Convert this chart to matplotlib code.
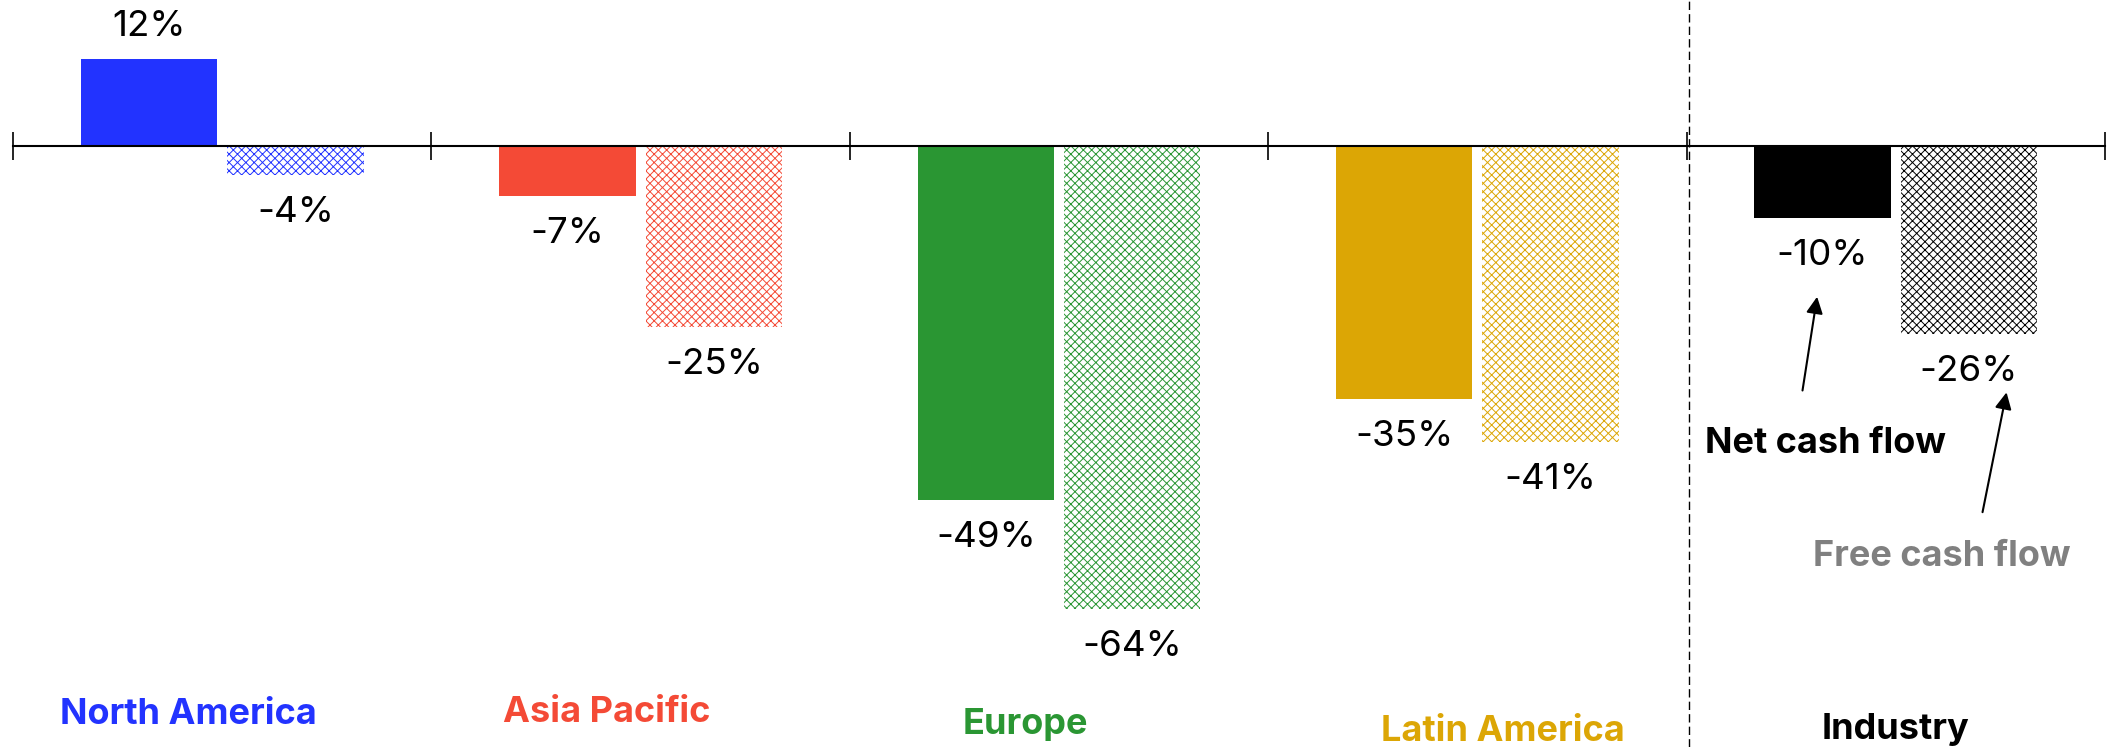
import matplotlib
matplotlib.use("Agg")
import matplotlib.pyplot as plt
import numpy as np

regions = ["North America", "Asia Pacific", "Europe", "Latin America", "Industry"]
net_cash = [12, -7, -49, -35, -10]
free_cash = [-4, -25, -64, -41, -26]
colors = ["#2233ff", "#f44a36", "#2a9633", "#dca605", "#000000"]

# where the region names sit (data coords)
label_x = [0.42, 1.42, 2.42, 3.56, 4.50]
label_y = [-78.5, -78.3, -80.0, -80.9, -80.6]

plt.rcParams['font.family'] = ['Inter', 'DejaVu Sans']
plt.rcParams['hatch.linewidth'] = 0.7

fig = plt.figure(figsize=(21.08, 7.47), dpi=100)
ax = fig.add_axes([13/2108, 0, 2092/2108, 1])

x = np.arange(len(regions)) + 0.5
w = 0.326
ax.bar(x - 0.175, net_cash, w, color=colors, linewidth=0)
ax.bar(x + 0.175, free_cash, w, color='none', edgecolor=colors, hatch='xxxx', linewidth=0)

for xs, vals in [(x - 0.175, net_cash), (x + 0.175, free_cash)]:
    for xi, v in zip(xs, vals):
        ax.annotate(f"{v}%", (xi, v), xytext=(0, 23 if v > 0 else -27),
                    textcoords='offset points', ha='center', va='center', fontsize=26.5)

for name, lx, ly, c in zip(regions, label_x, label_y, colors):
    ax.text(lx, ly, name, color=c, fontsize=26, fontweight='bold', ha='center', va='center')

ax.axvline(4.005, color='black', lw=1, linestyle=(0, (6, 3)))

ax.text(4.331, -41.1, "Net cash flow", fontsize=26, fontweight='bold', ha='center', va='center')
ax.annotate("", xy=(4.313, -20.5), xytext=(4.276, -34.2),
            arrowprops=dict(arrowstyle='-|>', lw=1.5, mutation_scale=25, color='black'))
ax.text(4.61, -56.8, "Free cash flow", fontsize=26, fontweight='bold', color='#808080', ha='center', va='center')
ax.annotate("", xy=(4.766, -33.7), xytext=(4.706, -51.0),
            arrowprops=dict(arrowstyle='-|>', lw=1.5, mutation_scale=25, color='black'))

ax.spines[['top', 'right', 'left']].set_visible(False)
ax.spines['bottom'].set_position(('data', 0))
ax.spines['bottom'].set_linewidth(1.5)
ax.set_xticks(range(6))
ax.set_xticklabels([])
ax.tick_params(axis='x', direction='inout', length=20, width=1.2)
ax.set_yticks([])
ax.set_xlim(0, 5)
ax.set_ylim(-83.05, 20.1)

fig.savefig("out.png", dpi=100)
